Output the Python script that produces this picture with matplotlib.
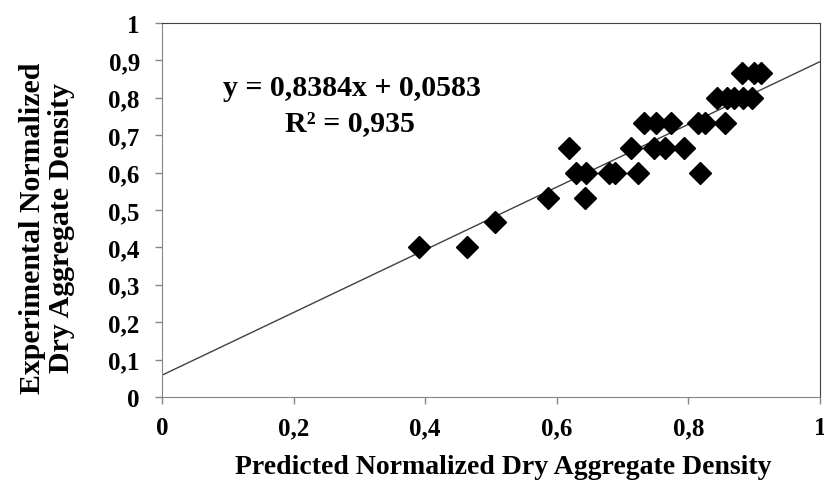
import matplotlib
matplotlib.use("Agg")
import matplotlib.pyplot as plt
from matplotlib.ticker import FuncFormatter
import numpy as np

predicted = [0.390, 0.464, 0.506, 0.587, 0.643, 0.619,
             0.629, 0.644, 0.680, 0.688, 0.724, 0.817,
             0.713, 0.748, 0.765, 0.793,
             0.733, 0.751, 0.774, 0.815, 0.825, 0.856,
             0.843, 0.858, 0.870, 0.883, 0.896,
             0.882, 0.899, 0.911]
experimental = [0.40, 0.40, 0.467, 0.533, 0.533, 0.667,
                0.60, 0.60, 0.60, 0.60, 0.60, 0.60,
                0.667, 0.667, 0.667, 0.667,
                0.733, 0.733, 0.733, 0.733, 0.733, 0.733,
                0.80, 0.80, 0.80, 0.80, 0.80,
                0.867, 0.867, 0.867]
slope = 0.8384
intercept = 0.0583
r2 = 0.935

x_ticks = [0, 0.2, 0.4, 0.6, 0.8, 1.0]
y_ticks = [0, 0.1, 0.2, 0.3, 0.4, 0.5, 0.6, 0.7, 0.8, 0.9, 1.0]

plt.rcParams['font.family'] = ['Liberation Serif', 'DejaVu Serif']
plt.rcParams['font.weight'] = 'bold'

W, H = 824, 489
fig = plt.figure(figsize=(W/100, H/100), dpi=100)
ax = fig.add_axes([162/W, 1-398/H, (820-162)/W, (398-24)/H])

line_x = np.array([0.0, 1.0])
ax.plot(line_x, slope*line_x + intercept, color='#404040', lw=1.0, zorder=2)
ax.plot(predicted, experimental, linestyle='none', marker='D', markersize=11,
        color='black', zorder=3, clip_on=False)

ax.set_xlim(0, 1)
ax.set_ylim(0, 1)
ax.set_xticks(x_ticks)
ax.set_yticks(y_ticks)
fmt = FuncFormatter(lambda v, p: ('%g' % round(v, 2)).replace('.', ','))
ax.xaxis.set_major_formatter(fmt)
ax.yaxis.set_major_formatter(fmt)
ax.tick_params(direction='out', length=5, width=1, color='#868686',
               labelsize=18)
ax.tick_params(axis='y', pad=11)
ax.tick_params(axis='x', pad=9)
for lab in ax.get_xticklabels() + ax.get_yticklabels():
    lab.set_fontweight('bold')

for s in ['left', 'bottom']:
    ax.spines[s].set_color('#868686')
for s in ['top', 'right']:
    ax.spines[s].set_color('#404040')

fig.text(503/W, 1-468/H, 'Predicted Normalized Dry Aggregate Density',
         ha='center', va='center', fontsize=20, fontweight='bold')
fig.text(47/W, 1-228/H, 'Experimental Normalized\nDry Aggregate Density',
         ha='center', va='center', rotation=90, fontsize=21.5,
         fontweight='bold', linespacing=1.05)

fig.text(352/W, 1-88/H, 'y = 0,8384x + 0,0583', ha='center', va='center',
         fontsize=21.5, fontweight='bold')
fig.text(350/W, 1-124/H, 'R² = ' + ('%g' % r2).replace('.', ','),
         ha='center', va='center', fontsize=21.5, fontweight='bold')

fig.savefig('out.png', dpi=100)
